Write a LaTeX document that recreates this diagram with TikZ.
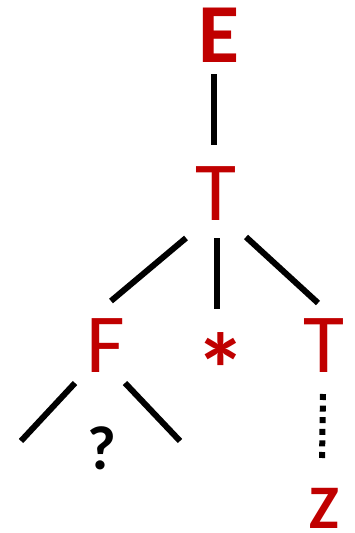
\documentclass[tikz,border=0pt]{standalone}
\usepackage{fontspec}
\setmainfont{Carlito}
\definecolor{symred}{HTML}{C00000}
\tikzset{
  sym/.style={inner sep=0pt, anchor=base, text=symred, font=\fontsize{84}{84}\selectfont},
  symbold/.style={sym, font=\fontsize{84}{84}\selectfont\bfseries},
  small/.style={inner sep=0pt, anchor=base, font=\fontsize{62}{62}\selectfont\bfseries},
  edge/.style={line width=6pt, black},
  chain/.style={line width=6pt, black, dash pattern=on 6pt off 5.6pt}
}
\begin{document}
\begin{tikzpicture}[x=1pt,y=-1pt]
  \useasboundingbox (0,0) rectangle (354,533);
  % symbols of the tree
  \node[symbold] (E) at (219,62) {E};
  \node[sym] (T1) at (216,220) {T};
  \node[sym] (F) at (106,372) {F};
  \node[symbold, anchor=north, font=\fontsize{102}{102}\selectfont\bfseries] (star) at (221,332) {*};
  \node[sym] (T2) at (324,372) {T};
  \node[small] (q) at (102,469) {?};
  \node[small, text=symred] (Z) at (324,528) {Z};
  % branches
  \draw[edge] ([shift={(-5,12)}]E.base) -- ([shift={(-2,-75)}]T1.base);
  \draw[edge] ([shift={(-30,18)}]T1.base) -- ([shift={(5,-71)}]F.base);
  \draw[edge] ([shift={(1,18)}]T1.base) -- ([shift={(1,-63)}]F.base -| T1.base);
  \draw[edge] ([shift={(30,17)}]T1.base) -- ([shift={(-6,-69)}]T2.base);
  \draw[edge] ([shift={(-31,11)}]F.base) -- ([shift={(-85,69)}]F.base);
  \draw[edge] ([shift={(19,11)}]F.base) -- ([shift={(74,69)}]F.base);
  \draw[chain] ([shift={(-1,22)}]T2.base) -- ([shift={(-2,-68)}]Z.base);
\end{tikzpicture}
\end{document}
